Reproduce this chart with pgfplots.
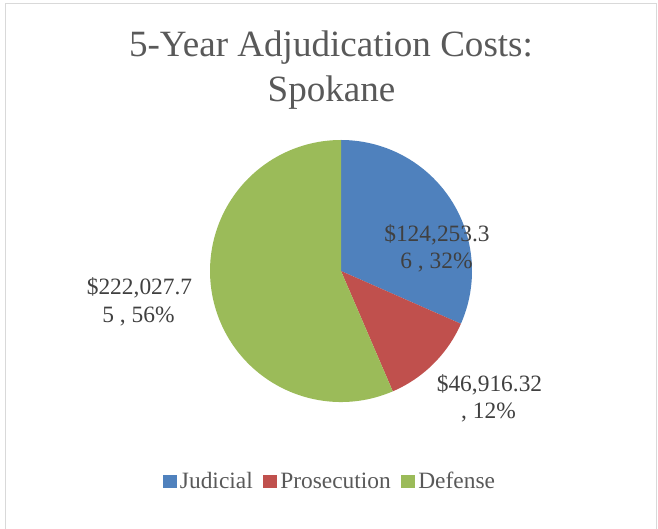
\documentclass[border=0pt]{standalone}
\usepackage{pgfplots}
\pgfplotsset{compat=1.18}
\usepackage{pgfplotstable}
\usepackage{fontspec}
\setmainfont{Liberation Serif}
\definecolor{judicial}{HTML}{4F81BD}
\definecolor{prosecution}{HTML}{C0504D}
\definecolor{defense}{HTML}{9BBB59}
\definecolor{titlegray}{HTML}{595959}
\definecolor{labelgray}{HTML}{404040}
\definecolor{framegray}{HTML}{D9D9D9}
\pgfplotstableread{
label value
Judicial 124253.36
Prosecution 46916.32
Defense 222027.75
}\costs
\pgfplotstablegetelem{0}{value}\of\costs \edef\vA{\pgfplotsretval}%
\pgfplotstablegetelem{1}{value}\of\costs \edef\vB{\pgfplotsretval}%
\pgfplotstablegetelem{2}{value}\of\costs \edef\vC{\pgfplotsretval}%
\edef\total{\fpeval{\vA+\vB+\vC}}%
\edef\eA{\fpeval{90-360*\vA/\total}}%
\edef\eB{\fpeval{90-360*(\vA+\vB)/\total}}%
\begin{document}%
\begin{tikzpicture}
\begin{axis}[
  width=658bp, height=529bp, scale only axis,
  xmin=0, xmax=658, ymin=0, ymax=529,
  hide axis, clip=false,
  legend columns=3,
  legend cell align=left,
  legend image code/.code={\fill[#1, draw=none] (0bp,-5bp) rectangle (14bp,8bp);},
  legend style={at={(axis cs:330.5,45.5)}, anchor=center, draw=none, fill=none,
    font=\fontsize{23.5}{27}\selectfont, text=titlegray,
    nodes={text height=16bp, text depth=5bp, inner xsep=3bp},
    /tikz/every even column/.append style={column sep=7.5bp},
    /tikz/every odd column/.append style={column sep=0bp}},
]
\draw[framegray, line width=1.5bp] (axis cs:5.5,-2) rectangle (axis cs:656.5,525.5);
\addlegendimage{fill=judicial}
\addlegendentry{Judicial}
\addlegendimage{fill=prosecution}
\addlegendentry{Prosecution}
\addlegendimage{fill=defense}
\addlegendentry{Defense}
\fill[judicial] (axis cs:341,258) -- ++(90:131bp) arc[start angle=90, end angle=\eA, radius=131bp] -- cycle;
\fill[prosecution] (axis cs:341,258) -- ++(\eA:131bp) arc[start angle=\eA, end angle=\eB, radius=131bp] -- cycle;
\fill[defense] (axis cs:341,258) -- ++(\eB:131bp) arc[start angle=\eB, end angle=-270, radius=131bp] -- cycle;
\node[anchor=base, text=titlegray, font=\fontsize{37.2}{44}\selectfont, inner sep=0pt] at (axis cs:331,472) {5-Year Adjudication Costs:};
\node[anchor=base, text=titlegray, font=\fontsize{37.2}{44}\selectfont, inner sep=0pt] at (axis cs:331.5,427) {Spokane};
\begin{scope}[every node/.style={anchor=base, text=labelgray, font=\fontsize{23.5}{27}\selectfont, inner sep=0pt}]
\node at (axis cs:437,287) {\$124,253.3};
\node at (axis cs:436.5,260) {6 , 32\%};
\node at (axis cs:489.5,137) {\$46,916.32};
\node at (axis cs:488.5,110) {, 12\%};
\node at (axis cs:139.5,234) {\$222,027.7};
\node at (axis cs:138.5,206) {5 , 56\%};
\end{scope}
\end{axis}
\pgfresetboundingbox
\useasboundingbox (current axis.south west) rectangle (current axis.north east);
\end{tikzpicture}%
\end{document}
